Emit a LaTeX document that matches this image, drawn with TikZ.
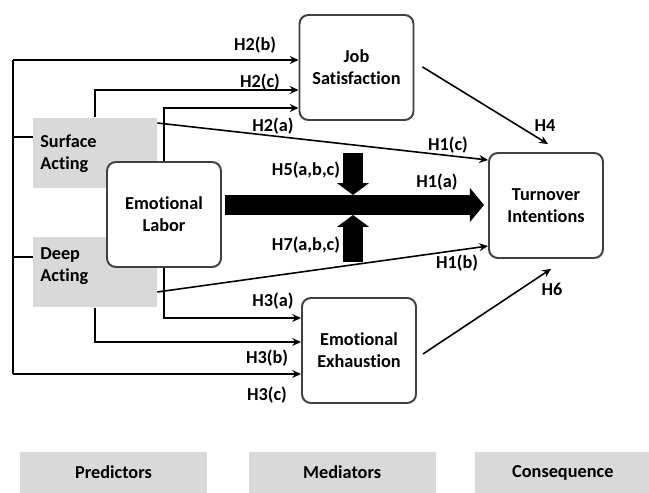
\documentclass[tikz,border=0pt]{standalone}
\usepackage{fontspec}
\setmainfont{Carlito}[Ligatures=NoCommon]
\usetikzlibrary{positioning, arrows.meta, calc}

\begin{document}
\begin{tikzpicture}[x=0.02cm, y=-0.02cm, font=\bfseries\fontsize{10.4}{12.5}\selectfont]
    \tikzstyle{main} = [rectangle, rounded corners=5pt, draw=black!75, line width=1.1pt, fill=white, minimum width=2.28cm, minimum height=2.1cm, align=center, inner sep=0pt]
    \tikzstyle{shade} = [rectangle, fill=black!15, minimum width=2.48cm, minimum height=1.42cm, inner sep=0pt]
    \tikzstyle{legend} = [rectangle, fill=black!15, minimum width=3.74cm, minimum height=0.82cm, inner sep=0pt]
    \tikzstyle{hyp} = [inner sep=1pt]
    \tikzstyle{line} = [line width=0.9pt]
    \tikzstyle{link} = [line width=0.9pt, -{Stealth[length=5pt, width=4.5pt]}]
    \tikzstyle{hbig} = [line width=11.3pt, -{Triangle[length=8pt, width=19pt]}]
    \tikzstyle{vbig} = [line width=11.3pt, -{Triangle[length=6.8pt, width=18pt]}]

    \useasboundingbox (0,0) rectangle (649,493);

    % Predictors (grey blocks)
    \node[shade] (SA) at (95,153) {};
    \node[shade] (DA) at (95,272) {};
    \node[anchor=west, align=left, inner sep=0pt] (SAtext) at (40,154) {Surface\\Acting};
    \node[anchor=west, align=left, inner sep=0pt] (DAtext) at (40,266) {Deep\\Acting};
    \node[main] (EL) at (164,214.5) {Emotional\\Labor};

    % Mediators
    \node[main] (JS) at (356.5,67.5) {Job\\Satisfaction};
    \node[main] (EE) at (359,350.5) {Emotional\\Exhaustion};

    % Consequence
    \node[main] (TI) at (546,205.5) {Turnover\\Intentions};

    % Legend row
    \node[legend] (pred) at (113.5,472.5) {Predictors};
    \node[legend] (med) [right=0.82cm of pred] {Mediators};
    \node[legend, minimum width=3.5cm] (cons) [right=0.78cm of med] {Consequence};

    % Left bus
    \coordinate (busT) at (13,60);
    \coordinate (busB) at (13,374);
    \draw[line] (busT) -- (busB);
    \draw[line] (busT |- 0,137) -- (SA.west |- 0,137);
    \draw[line] (busT |- 0,257) -- (DA.west |- 0,257);

    % Paths to job satisfaction
    \draw[link] (busT) -- (busT -| JS.west);
    \draw[link] (SA.north) |- (JS.west |- 0,90);
    \draw[link] (EL.north) |- (JS.west |- 0,108);

    % Paths to emotional exhaustion
    \draw[link] (EL.south) |- (EE.west |- 0,318);
    \draw[link] (DA.south) |- (EE.west |- 0,342);
    \draw[link] (busB) -- (busB -| EE.west);

    % Direct paths to turnover
    \draw[link] (SA.east |- 0,123) -- (TI.west |- 0,160);
    \draw[link] (DA.east |- 0,292) -- (TI.west |- 0,246);
    \draw[link, shorten <=5.3pt, shorten >=8.7pt] (JS.east |- 0,62) -- (TI.north -| 561,0);
    \draw[link, shorten <=4.1pt, shorten >=10.2pt] (EE.east |- 0,358) -- (TI.south -| 566,0);

    % Big arrows
    \coordinate (mod5) at (353,153);
    \coordinate (mod7) at (353,262);
    \coordinate (hub) at (353,205);
    \draw[hbig, shorten <=2pt, shorten >=2.3pt] (EL.east |- 0,205) -- (TI.west |- 0,205);
    \draw[vbig, shorten >=5.7pt] (mod5) -- (hub);
    \draw[vbig, shorten >=5.7pt] (mod7) -- (hub);

    % Hypothesis labels
    \node[hyp] (h2b) at (255,45) {H2(b)};
    \node[hyp] (h2c) at (260,82) {H2(c)};
    \node[hyp] (h2a) at (273,126) {H2(a)};
    \node[hyp] (h1c) at (448,145) {H1(c)};
    \node[hyp] (h4) at (545,126) {H4};
    \node[hyp] (h5) at (306,170) {H5(a,b,c)};
    \node[hyp] (h1a) at (437,182) {H1(a)};
    \node[hyp] (h7) at (306,245) {H7(a,b,c)};
    \node[hyp] (h1b) at (457,263) {H1(b)};
    \node[hyp] (h3a) at (273,301) {H3(a)};
    \node[hyp] (h3b) at (267,358) {H3(b)};
    \node[hyp] (h3c) at (267,395) {H3(c)};
    \node[hyp] (h6) at (552,289) {H6};
\end{tikzpicture}
\end{document}
